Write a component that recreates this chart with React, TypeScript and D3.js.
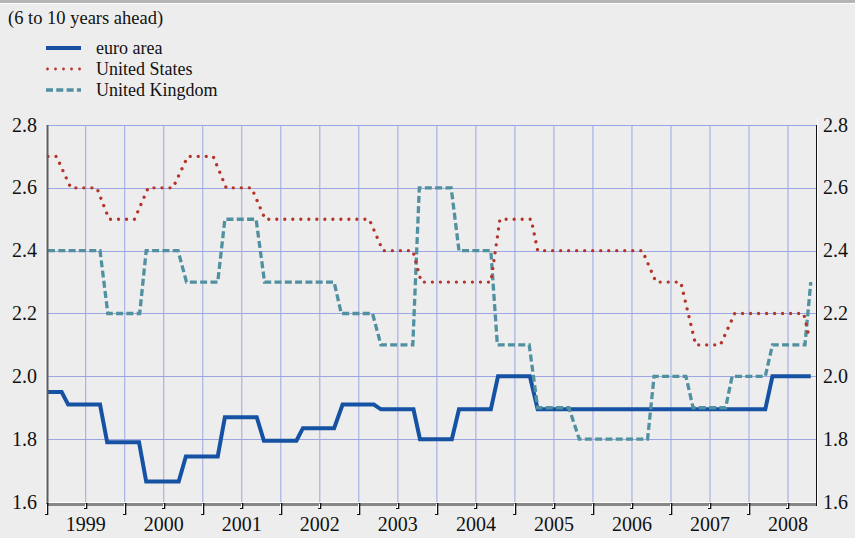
import { useEffect, useRef } from "react";
import * as d3 from "d3";

// months since Jan 1999, value (%)
const euroArea: [number, number][] = [
  [0.2, 1.95], [2.3, 1.95], [3.3, 1.91], [8.2, 1.91], [9.3, 1.79], [14.2, 1.79],
  [15.3, 1.665], [20.3, 1.665], [21.4, 1.745], [26.3, 1.745], [27.4, 1.87], [32.3, 1.87],
  [33.4, 1.795], [38.4, 1.795], [39.4, 1.835], [44.2, 1.835], [45.5, 1.91], [50.3, 1.91],
  [51.4, 1.895], [56.4, 1.895], [57.4, 1.8], [62.3, 1.8], [63.4, 1.895], [68.3, 1.895],
  [69.4, 2.0], [74.3, 2.0], [75.5, 1.895], [110.5, 1.895], [111.6, 2.0], [117.5, 2.0],
];
const unitedStates: [number, number][] = [
  [0.2, 2.7], [1.5, 2.7], [3.7, 2.6], [7.7, 2.6], [9.6, 2.5], [13.5, 2.5],
  [15.6, 2.6], [19.4, 2.6], [21.7, 2.7], [25.6, 2.7], [27.6, 2.6], [31.5, 2.6],
  [33.6, 2.5], [49.6, 2.5], [51.7, 2.4], [56.3, 2.4], [57.6, 2.3], [68.3, 2.3],
  [69.7, 2.5], [74.5, 2.5], [75.5, 2.4], [91.6, 2.4], [93.7, 2.3], [97.5, 2.3],
  [99.8, 2.1], [103.6, 2.1], [105.8, 2.2], [116.4, 2.2], [117.3, 2.12],
];
const unitedKingdom: [number, number][] = [
  [0.2, 2.4], [8.2, 2.4], [9.4, 2.2], [14.3, 2.2], [15.3, 2.4], [20.2, 2.4],
  [21.5, 2.3], [26.3, 2.3], [27.4, 2.5], [32.2, 2.5], [33.5, 2.3], [44.2, 2.3],
  [45.3, 2.2], [50.1, 2.2], [51.4, 2.1], [56.3, 2.1], [57.3, 2.6], [62.2, 2.6],
  [63.4, 2.4], [68.3, 2.4], [69.3, 2.1], [74.2, 2.1], [75.5, 1.9], [80.3, 1.9],
  [81.9, 1.8], [92.4, 1.8], [93.4, 2.0], [98.3, 2.0], [99.4, 1.9], [104.4, 1.9],
  [105.4, 2.0], [110.5, 2.0], [111.6, 2.1], [116.6, 2.1], [117.5, 2.3],
];
const years = ["1999", "2000", "2001", "2002", "2003", "2004", "2005", "2006", "2007", "2008"];
const yTicks = [1.6, 1.8, 2.0, 2.2, 2.4, 2.6, 2.8];
const title = "(6 to 10 years ahead)";

const series = [
  { name: "euro area", data: euroArea, color: "#1652a3", width: 4, dash: null, cap: "butt" },
  { name: "United Kingdom", data: unitedKingdom, color: "#5190a0", width: 3.3, dash: "7 3.3", cap: "butt" },
  { name: "United States", data: unitedStates, color: "#b5342a", width: 3.3, dash: "0.01 8", cap: "round" },
];
const legendOrder = ["euro area", "United States", "United Kingdom"];

const App = () => {
  const ref = useRef<SVGSVGElement>(null);

  useEffect(() => {
    const width = 855;
    const height = 538;
    const font = "'Liberation Serif', 'Times New Roman', serif";
    const svg = d3.select(ref.current);
    svg.selectAll("*").remove();

    const x = d3.scaleLinear().domain([0.2, 118.3]).range([48, 816]);
    const y = d3.scaleLinear().domain([1.6, 2.8]).range([502, 125]);

    svg.append("rect").attr("width", width).attr("height", height).attr("fill", "#ededed");
    svg.append("rect").attr("width", width).attr("height", 3).attr("fill", "#b5b5b5");
    svg.append("rect").attr("y", 3).attr("width", width).attr("height", 1).attr("fill", "#ffffff");

    // grid
    const halfYears = d3.range(6, 115, 6);
    svg
      .append("g")
      .selectAll("line")
      .data(halfYears)
      .enter()
      .append("line")
      .attr("x1", (d) => x(d))
      .attr("x2", (d) => x(d))
      .attr("y1", y(2.8))
      .attr("y2", y(1.6))
      .attr("stroke", "#9ba6e2")
      .attr("stroke-width", 1);
    svg
      .append("g")
      .selectAll("line")
      .data(yTicks.slice(1))
      .enter()
      .append("line")
      .attr("x1", x.range()[0])
      .attr("x2", x.range()[1])
      .attr("y1", (d) => Math.round(y(d)) + 0.5)
      .attr("y2", (d) => Math.round(y(d)) + 0.5)
      .attr("stroke", "#9ba6e2")
      .attr("stroke-width", 1);

    // series
    const line = d3
      .line<[number, number]>()
      .x((d) => x(d[0]))
      .y((d) => y(d[1]));
    series.forEach((s) => {
      svg
        .append("path")
        .attr("d", line(s.data))
        .attr("fill", "none")
        .attr("stroke", s.color)
        .attr("stroke-width", s.width)
        .attr("stroke-dasharray", s.dash)
        .attr("stroke-linecap", s.cap)
        .attr("stroke-linejoin", "miter");
    });

    // axes
    const bottom = 503;
    svg.append("rect").attr("x", 46).attr("y", bottom - 1).attr("width", 771).attr("height", 1).attr("fill", "#ffffff");
    svg.append("rect").attr("x", 46).attr("y", bottom).attr("width", 771).attr("height", 3).attr("fill", "#878787");
    svg.append("rect").attr("x", 45.5).attr("y", 125).attr("width", 1).attr("height", bottom - 125).attr("fill", "#ffffff");
    svg.append("rect").attr("x", 46.5).attr("y", 125).attr("width", 2).attr("height", bottom - 125 + 3).attr("fill", "#5e5e5e");
    svg.append("rect").attr("x", 816).attr("y", 125).attr("width", 1).attr("height", bottom - 125 + 3).attr("fill", "#111111");
    svg.append("rect").attr("x", 817).attr("y", 118).attr("width", 1).attr("height", bottom - 118 + 3).attr("fill", "#ffffff");

    const ticks = d3.range(0, 115, 6);
    const tg = svg.append("g");
    ticks.forEach((m) => {
      const len = m % 12 === 0 ? 11 : 5;
      const tx = Math.round(x(m));
      tg.append("rect").attr("x", tx - 1).attr("y", bottom + 1).attr("width", 1).attr("height", len).attr("fill", "#ffffff");
      tg.append("rect").attr("x", tx).attr("y", bottom).attr("width", 1.3).attr("height", len + 1).attr("fill", "#111111");
      tg.append("rect").attr("x", tx - 2).attr("y", bottom + len).attr("width", 3).attr("height", 1).attr("fill", "#111111");
    });

    svg
      .append("g")
      .selectAll("text")
      .data(years)
      .enter()
      .append("text")
      .attr("x", (_d, i) => x(12 * i + 6))
      .attr("y", 531)
      .attr("text-anchor", "middle")
      .attr("font-family", font)
      .attr("font-size", 20)
      .attr("fill", "#111")
      .text((d) => d);

    [
      { xPos: 37, anchor: "end" },
      { xPos: 823, anchor: "start" },
    ].forEach((side) => {
      svg
        .append("g")
        .selectAll("text")
        .data(yTicks)
        .enter()
        .append("text")
        .attr("x", side.xPos)
        .attr("y", (d) => y(d) + 6.5)
        .attr("text-anchor", side.anchor)
        .attr("font-family", font)
        .attr("font-size", 20)
        .attr("fill", "#111")
        .text((d) => d.toFixed(1));
    });

    // title and legend
    svg
      .append("text")
      .attr("x", 8)
      .attr("y", 24)
      .attr("font-family", font)
      .attr("font-size", 18.5)
      .attr("fill", "#111")
      .text(title);

    legendOrder.forEach((name, i) => {
      const s = series.find((d) => d.name === name)!;
      const ly = 48 + i * 21;
      svg
        .append("line")
        .attr("x1", s.cap === "round" ? 47.5 : 46)
        .attr("x2", 81)
        .attr("y1", ly)
        .attr("y2", ly)
        .attr("stroke", s.color)
        .attr("stroke-width", s.cap === "round" ? 2.8 : s.width)
        .attr("stroke-dasharray", s.dash)
        .attr("stroke-linecap", s.cap);
      svg
        .append("text")
        .attr("x", 96)
        .attr("y", ly + 6)
        .attr("font-family", font)
        .attr("font-size", 18)
        .attr("fill", "#111")
        .text(name);
    });
  }, []);

  return (
    <svg
      ref={ref}
      width={855}
      height={538}
      style={{ position: "absolute", left: 0, top: 0, display: "block" }}
    />
  );
};

export default App;
